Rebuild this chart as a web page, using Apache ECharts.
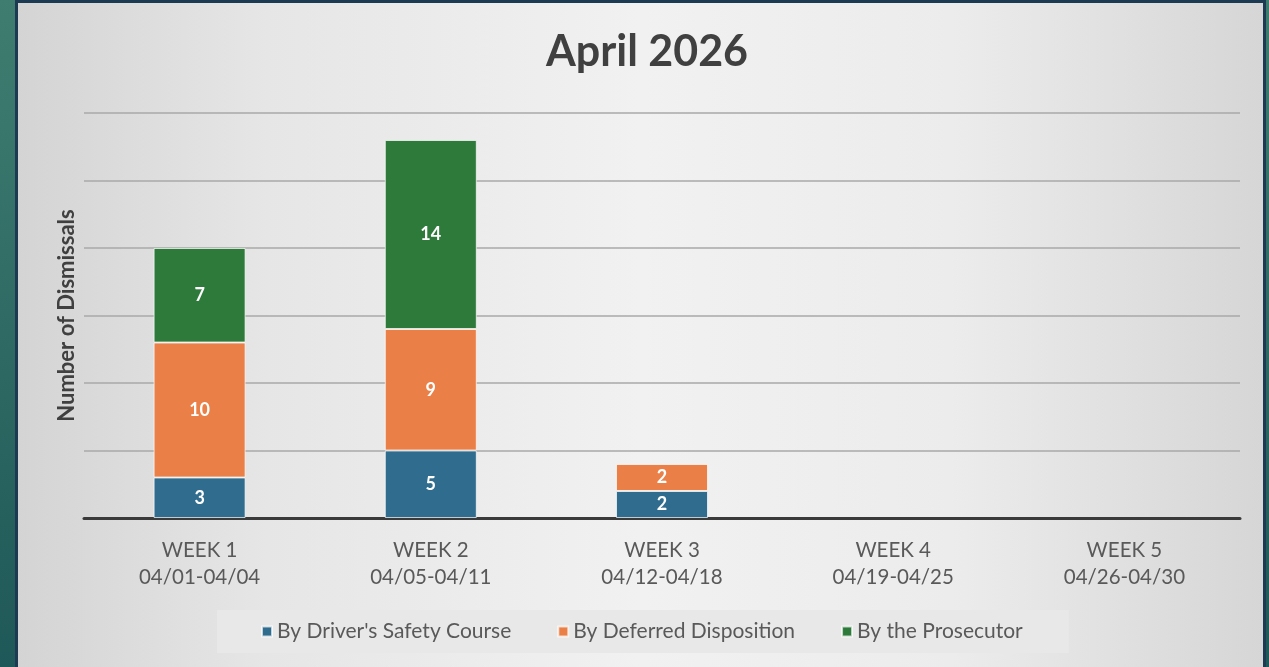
<!DOCTYPE html>
<html><head><meta charset="utf-8">
<script src="https://cdn.jsdelivr.net/npm/echarts@6/dist/echarts.min.js"></script>
<style>
html,body{margin:0;padding:0;width:1269px;height:667px;overflow:hidden;}
body{background:linear-gradient(to bottom,#3f7d70,#1f5858);position:relative;}
#bg{position:absolute;left:15px;top:0;width:1251px;height:667px;box-sizing:border-box;border-left:3px solid #1c3a52;border-top:3px solid #1c3a52;border-right:3px solid #1c3a52;
background:linear-gradient(to right,#d4d4d4 0%,#e6e6e6 20%,#f1f1f1 50%,#ececec 75%,#d6d6d6 100%);}
#c{position:absolute;left:0;top:0;width:1269px;height:667px;}
</style></head><body>
<div id="bg"></div>
<div id="c"></div>
<script>
const categories = ['WEEK 1\n04/01-04/04','WEEK 2\n04/05-04/11','WEEK 3\n04/12-04/18','WEEK 4\n04/19-04/25','WEEK 5\n04/26-04/30'];
const driversSafety = [3, 5, 2, null, null];
const deferred = [10, 9, 2, null, null];
const prosecutor = [7, 14, null, null, null];
const seriesNames = ["By Driver's Safety Course", 'By Deferred Disposition', 'By the Prosecutor'];
const colors = ['#2f6c8d', '#ea8048', '#2e7a3b'];

const chart = echarts.init(document.getElementById('c'), null, {renderer:'canvas'});
const mk = (name, data, color) => ({
  name, type:'bar', stack:'total', data, barWidth:92,
  itemStyle:{color, borderColor:'rgba(255,255,255,0.7)', borderWidth:1},
  label:{show:true, position:'inside', color:'#ffffff', fontWeight:'bold', fontSize:18, fontFamily:'Lato'}
});
chart.setOption({
  backgroundColor:'transparent',
  animation:false,
  title:{text:'April 2026', left:642, top:26, textAlign:'center',
    textStyle:{fontFamily:'Lato', fontWeight:'bold', fontSize:43, color:'#404040'}},
  grid:{left:84, right:29, top:113, bottom:149},
  legend:{data:seriesNames, left:217, top:610, itemWidth:10, itemHeight:10, itemGap:46,
    backgroundColor:'#e8e8e8', padding:[11,46,11,44],
    icon:'rect',
    textStyle:{fontFamily:'Lato', fontSize:21, color:'#595959'}},
  xAxis:{type:'category', data:categories,
    axisLine:{lineStyle:{color:'#3a3a3a', width:3}},
    axisTick:{show:false},
    axisLabel:{fontFamily:'Lato', fontSize:20.5, color:'#595959', lineHeight:27, margin:19}},
  yAxis:{type:'value', min:0, max:30, interval:5,
    name:'Number of Dismissals', nameLocation:'middle', nameGap:6,
    nameTextStyle:{fontFamily:'Lato', fontWeight:'bold', fontSize:22, color:'#404040'},
    axisLabel:{show:false}, axisLine:{show:false}, axisTick:{show:false},
    splitLine:{lineStyle:{color:'#a9a9a9', width:1.5}}},
  series:[mk(seriesNames[0], driversSafety, colors[0]), mk(seriesNames[1], deferred, colors[1]), mk(seriesNames[2], prosecutor, colors[2])]
});
</script>
</body></html>
